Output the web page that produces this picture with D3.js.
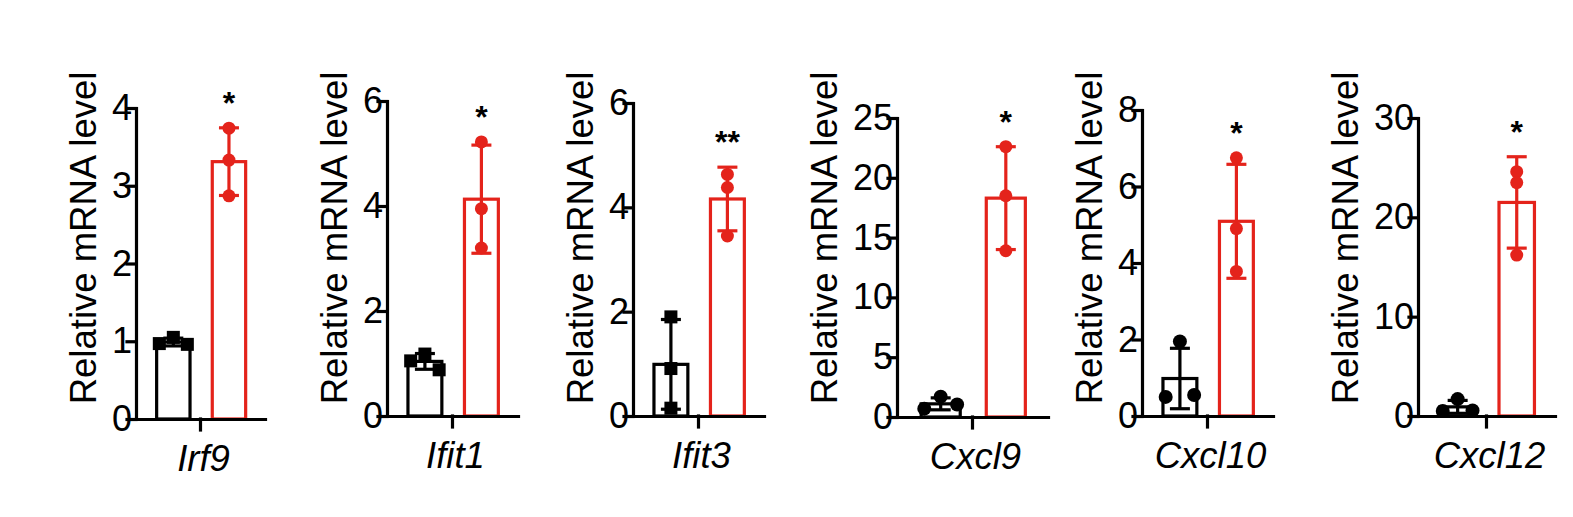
<!DOCTYPE html>
<meta charset="utf-8">

<style>
  body { margin: 0; background: #fff; }
  svg text { font-family: "Liberation Sans", Arial, sans-serif; fill: #000; }
  .axis path, .axis line { stroke: #000; stroke-width: 3.2px; stroke-linecap: square; }
  .axis text { font-size: 36px; }
  .ylabel { font-size: 36.5px; text-anchor: middle; }
  .star { font-size: 32px; font-weight: bold; text-anchor: middle; }
</style>

<body>
<script src="https://cdn.jsdelivr.net/npm/d3@7"></script>
<script>

// data
const genes = ["Irf9", "Ifit1", "Ifit3", "Cxcl9", "Cxcl10", "Cxcl12"]
const yMax = [4, 6, 6, 25, 8, 30]
const yTicks = [[0, 1, 2, 3, 4], [0, 2, 4, 6], [0, 2, 4, 6],
                [0, 5, 10, 15, 20, 25], [0, 2, 4, 6, 8], [0, 10, 20, 30]]
const ctrlMean = [0.99, 1.04, 0.99, 1.1, 0.98, 0.92]
const ctrlSd   = [0.05, 0.15, 0.86, 0.5, 0.79, 0.65]
const ctrlPts  = [[1.05, 0.97, 0.96], [1.18, 1.05, 0.88], [1.9, 0.91, 0.15],
                  [1.7, 0.7, 1.05], [1.95, 0.5, 0.55], [1.7, 0.5, 0.55]]
const ctrlShape = ["square", "square", "square", "circle", "circle", "circle"]
const trtMean = [3.31, 4.13, 4.16, 18.3, 5.09, 21.5]
const trtSd   = [0.435, 1.03, 0.61, 4.3, 1.49, 4.6]
const trtPts  = [[3.74, 3.33, 2.87], [5.22, 3.95, 3.2], [4.63, 4.38, 3.45],
                 [22.6, 18.5, 13.9], [6.75, 4.9, 3.78], [24.6, 23.5, 16.2]]
const stars = ["*", "*", "**", "*", "*", "*"]

// panel layout
const panelLeft   = [136, 387, 633, 897, 1142, 1418],
      panelTop    = [108, 101, 103, 118, 110, 118],
      panelBottom = [419, 416, 416, 417, 416, 416],
      panelLen    = [129, 131, 131, 151, 131, 137]

const colors = {ctrl: "#000000", trt: "#e4231b"}
const labelMid = 238

const svg = d3.select("body")
  .append("svg")
    .attr("width", 1573)
    .attr("height", 517)

genes.forEach((gene, i) => {
  const g = svg.append("g")
    .attr("transform", `translate(${panelLeft[i]}, 0)`)

  const y = d3.scaleLinear()
    .domain([0, yMax[i]])
    .range([panelBottom[i], panelTop[i]])

  const len = panelLen[i]
  const xb = d3.scaleBand()
    .domain(["ctrl", "trt"])
    .range([0.16 * len, 0.85 * len])
    .paddingInner(0.4)
  const bw = xb.bandwidth()

  const groups = [
    {key: "ctrl", mean: ctrlMean[i], sd: ctrlSd[i], pts: ctrlPts[i], shape: ctrlShape[i]},
    {key: "trt", mean: trtMean[i], sd: trtSd[i], pts: trtPts[i], shape: "circle"}
  ]

  // bars
  g.selectAll(".bar")
    .data(groups)
    .enter().append("rect")
      .attr("class", "bar")
      .attr("x", d => xb(d.key))
      .attr("y", d => y(d.mean))
      .attr("width", bw)
      .attr("height", d => y(0) - y(d.mean))
      .attr("fill", "white")
      .attr("stroke", d => colors[d.key])
      .attr("stroke-width", 3.2)

  // error bars (mean +/- SD)
  groups.forEach(d => {
    const cx = xb(d.key) + bw / 2
    const lo = Math.max(0, d.mean - d.sd), hi = d.mean + d.sd
    const eb = g.append("g")
      .attr("stroke", colors[d.key])
      .attr("stroke-width", 3.2)
    eb.append("line")
      .attr("x1", cx).attr("x2", cx)
      .attr("y1", y(lo)).attr("y2", y(hi))
    ;[lo, hi].forEach(v => {
      eb.append("line")
        .attr("x1", cx - 10).attr("x2", cx + 10)
        .attr("y1", y(v)).attr("y2", y(v))
    })

    // spread overlapping points sideways
    const size = 13, dx = bw * 0.42
    const order = d.pts.map((v, k) => ({v, k, py: y(v)}))
      .sort((a, b) => a.py - b.py)
    const clusters = []
    order.forEach(p => {
      const last = clusters[clusters.length - 1]
      if (last && p.py - last[last.length - 1].py < 10) last.push(p)
      else clusters.push([p])
    })
    const placed = []
    clusters.forEach(c => {
      c.sort((a, b) => a.k - b.k)
      const offs = c.length === 1 ? [0] : c.length === 2 ? [-dx, dx] : [0, -dx, dx]
      c.forEach((p, j) => placed.push({x: cx + (offs[j] || 0), y: p.py}))
    })

    if (d.shape === "square") {
      g.selectAll(null)
        .data(placed)
        .enter().append("rect")
          .attr("x", p => p.x - size / 2)
          .attr("y", p => p.y - size / 2)
          .attr("width", size)
          .attr("height", size)
          .attr("fill", colors[d.key])
    } else {
      g.selectAll(null)
        .data(placed)
        .enter().append("circle")
          .attr("cx", p => p.x)
          .attr("cy", p => p.y)
          .attr("r", d.key === "ctrl" ? 7 : 6.5)
          .attr("fill", colors[d.key])
    }
  })

  // y axis
  const yAxis = g.append("g")
    .attr("class", "axis")
    .call(d3.axisLeft(y)
      .tickValues(yTicks[i])
      .tickFormat(d3.format("d"))
      .tickSize(9)
      .tickSizeOuter(0)
      .tickPadding(-5))

  // x axis with the gene name
  const xg = d3.scaleBand().domain([gene]).range([0, len])
  const xAxis = g.append("g")
    .attr("class", "axis")
    .attr("transform", `translate(0, ${y(0)})`)
    .call(d3.axisBottom(xg).tickSize(11).tickSizeOuter(0).tickPadding(15))
  xAxis.selectAll("text")
    .style("font-size", "36.5px")
    .style("font-style", "italic")
    .attr("dx", 3)

  // y label
  const bb = yAxis.node().getBBox()
  g.append("text")
    .attr("class", "ylabel")
    .attr("transform", `translate(${bb.x - 16}, ${labelMid}) rotate(-90)`)
    .text("Relative mRNA level")

  // significance
  const top = d3.max([trtMean[i] + trtSd[i], d3.max(trtPts[i])])
  g.append("text")
    .attr("class", "star")
    .attr("x", xb("trt") + bw / 2)
    .attr("y", y(top) - 34 + 20)
    .text(stars[i])
})

</script>
</body>
</html>
